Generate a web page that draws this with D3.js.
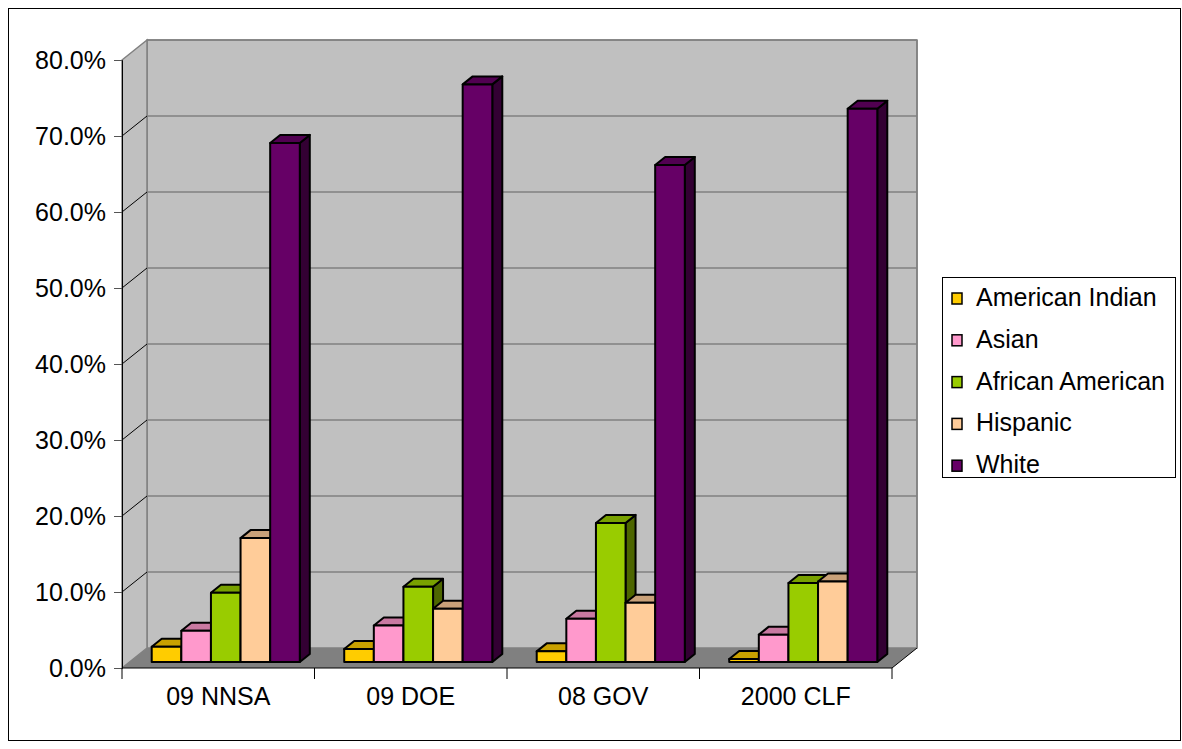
<!DOCTYPE html>
<html>
<head>
<meta charset="utf-8">
<script src="https://cdn.jsdelivr.net/npm/d3@7"></script>
<style>
  html, body { margin: 0; padding: 0; background: #fff; }
  svg { display: block; font-family: "Liberation Sans", Arial, sans-serif; }
</style>
</head>
<body>
<svg id="chart" width="1182" height="749"></svg>
<script>
// Workforce composition by group, percent of total
const categories = ["09 NNSA", "09 DOE", "08 GOV", "2000 CLF"];
const seriesNames = ["American Indian", "Asian", "African American", "Hispanic", "White"];
const americanIndian  = [2.0, 1.7, 1.4, 0.4];
const asian           = [4.1, 4.8, 5.7, 3.6];
const africanAmerican = [9.1, 9.9, 18.3, 10.4];
const hispanic        = [16.3, 7.0, 7.8, 10.6];
const white           = [68.3, 76.0, 65.4, 72.8];
const seriesValues = [americanIndian, asian, africanAmerican, hispanic, white];
const seriesColors = ["#FFCC00", "#FF99CC", "#99CC00", "#FFCC99", "#660066"];
const yTicks = [0, 10, 20, 30, 40, 50, 60, 70, 80];

const FONT = 25;
const svg = d3.select("#chart");

// Plot frame: front plane (z = 0) and depth offset to the back wall (z = 1)
const front = { left: 122, right: 892, bottom: 668, top: 60 };
const depth = { dx: 25, dy: -20 };
const proj = (x, y, z) => [x + depth.dx * z, y + depth.dy * z];

const x = d3.scaleBand().domain(categories).range([front.left, front.right]).padding(0);
const xs = d3.scaleBand().domain(seriesNames).range([0, x.bandwidth()])
  .paddingInner(0).paddingOuter(0.75);
const y = d3.scaleLinear().domain([0, 80]).range([front.bottom, front.top]);

const shade = (c, k) => {
  const col = d3.rgb(c);
  return d3.rgb(col.r * k, col.g * k, col.b * k).formatHex();
};
const poly = pts => "M" + pts.map(p => p.join(",")).join("L") + "Z";

// Outer chart border
svg.append("rect")
  .attr("x", 8.5).attr("y", 8.5).attr("width", 1172).attr("height", 732)
  .attr("fill", "#fff").attr("stroke", "#000").attr("stroke-width", 1);

// Walls and floor
const g = svg.append("g");
g.append("path")   // back wall
  .attr("d", poly([proj(front.left, y(80), 1), proj(front.right, y(80), 1),
                   proj(front.right, y(0), 1), proj(front.left, y(0), 1)]))
  .attr("fill", "#C0C0C0").attr("stroke", "#808080").attr("stroke-width", 1.5);
g.append("path")   // side wall
  .attr("d", poly([[front.left, y(80)], proj(front.left, y(80), 1),
                   proj(front.left, y(0), 1), [front.left, y(0)]]))
  .attr("fill", "#C0C0C0").attr("stroke", "#808080").attr("stroke-width", 1.5);
g.append("path")   // floor
  .attr("d", poly([[front.left, y(0)], [front.right, y(0)],
                   proj(front.right, y(0), 1), proj(front.left, y(0), 1)]))
  .attr("fill", "#808080").attr("stroke", "none");

// Gridlines on back wall and side wall
yTicks.filter(t => t > 0).forEach(t => {
  const a = proj(front.left, y(t), 1), b = proj(front.right, y(t), 1);
  g.append("line").attr("x1", a[0]).attr("y1", a[1]).attr("x2", b[0]).attr("y2", b[1])
    .attr("stroke", "#808080").attr("stroke-width", 1.5);
  if (t < 80) {
    g.append("line").attr("x1", front.left).attr("y1", y(t)).attr("x2", a[0]).attr("y2", a[1])
      .attr("stroke", "#000").attr("stroke-width", 1);
  }
});
// Floor right edge and back wall right edge
{
  const a = proj(front.right, y(0), 1);
  g.append("line").attr("x1", front.right).attr("y1", y(0)).attr("x2", a[0]).attr("y2", a[1])
    .attr("stroke", "#000").attr("stroke-width", 1);
  g.append("line").attr("x1", a[0]).attr("y1", a[1]).attr("x2", a[0]).attr("y2", proj(0, y(80), 1)[1])
    .attr("stroke", "#808080").attr("stroke-width", 1.5);
}

// Value axis
const yAxis = d3.axisLeft(y).tickValues(yTicks).tickSize(8).tickPadding(8)
  .tickFormat(d => d.toFixed(1) + "%");
const ya = svg.append("g").attr("transform", `translate(${front.left},0)`).call(yAxis);
ya.select(".domain").attr("stroke", "#000");
ya.selectAll(".tick line").attr("stroke", "#555");
ya.selectAll("text").attr("font-size", FONT).attr("fill", "#000")
  .attr("font-family", "Liberation Sans, Arial, sans-serif");

// Category axis
const xAxis = d3.axisBottom(x).tickSize(0).tickPadding(19);
const xa = svg.append("g").attr("transform", `translate(0,${front.bottom})`).call(xAxis);
xa.select(".domain").attr("stroke", "#000").attr("d", `M${front.left},0H${front.right}`);
xa.selectAll("text").attr("font-size", FONT).attr("fill", "#000")
  .attr("font-family", "Liberation Sans, Arial, sans-serif");
const bounds = categories.map(c => x(c)).concat([front.right]);
xa.selectAll(".cat-tick").data(bounds).enter().append("line")
  .attr("class", "cat-tick")
  .attr("x1", d => d).attr("x2", d => d).attr("y1", 0).attr("y2", 11)
  .attr("stroke", "#000").attr("stroke-width", 1);

// 3D columns: front face at z0, back face at z1
const z0 = 0.3, z1 = 0.7;
const bars = svg.append("g");
categories.forEach((cat, ci) => {
  seriesNames.forEach((s, si) => {
    const v = seriesValues[si][ci];
    const c = seriesColors[si];
    const xl = x(cat) + xs(s), xr = xl + xs.bandwidth();
    const yt = y(v), yb = y(0);
    const fTL = proj(xl, yt, z0), fTR = proj(xr, yt, z0);
    const fBL = proj(xl, yb, z0), fBR = proj(xr, yb, z0);
    const bTL = proj(xl, yt, z1), bTR = proj(xr, yt, z1), bBR = proj(xr, yb, z1);
    const gb = bars.append("g").attr("stroke", "#000").attr("stroke-width", 2)
      .attr("stroke-linejoin", "round");
    gb.append("path").attr("d", poly([fTR, bTR, bBR, fBR])).attr("fill", shade(c, 0.5));
    gb.append("path").attr("d", poly([fTL, fTR, bTR, bTL])).attr("fill", shade(c, 0.79));
    gb.append("path").attr("d", poly([fTL, fTR, fBR, fBL])).attr("fill", c);
  });
});

// Legend
const legend = svg.append("g");
legend.append("rect").attr("x", 942.5).attr("y", 277.5).attr("width", 233).attr("height", 200)
  .attr("fill", "#fff").attr("stroke", "#000").attr("stroke-width", 1);
seriesNames.forEach((s, i) => {
  const base = 306 + i * 41.8;
  legend.append("rect").attr("x", 952).attr("y", base - 13).attr("width", 10).attr("height", 11)
    .attr("fill", seriesColors[i]).attr("stroke", "#000").attr("stroke-width", 1.5);
  legend.append("text").attr("x", 976).attr("y", base).attr("font-size", FONT)
    .attr("fill", "#000").text(s);
});
</script>
</body>
</html>
